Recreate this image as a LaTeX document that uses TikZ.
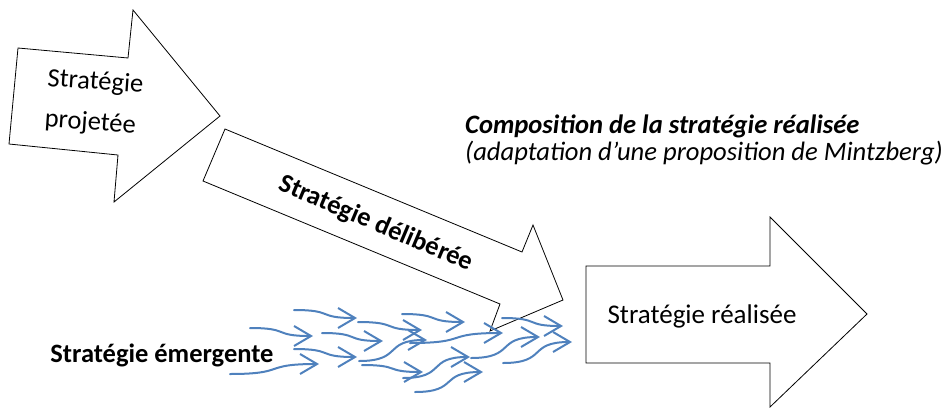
\documentclass[tikz,border=0pt]{standalone}
\usepackage{fontspec}
\setmainfont{Carlito}
\usepackage{tikz}
\usetikzlibrary{arrows.meta, calc}
\definecolor{ink}{RGB}{0,0,0}
\definecolor{flow}{RGB}{79,129,189}
\tikzset{
  bigarrow/.style  ={draw=ink, fill=white, line width=0.8pt, line join=miter},
  flowarr/.style   ={-{Straight Barb[length=17pt, width=20pt]}, line width=2pt, color=flow, line cap=round},
  armlabel/.style  ={font=\fontsize{26.5}{41}\selectfont, align=left, inner sep=0pt},
  boldlabel/.style ={font=\fontsize{26.5}{31}\selectfont\bfseries, inner sep=0pt},
  titlelabel/.style={anchor=base west, inner sep=0pt},
}
\begin{document}
\begin{tikzpicture}[x=1pt, y=-1pt]
\useasboundingbox (0,0) rectangle (948,408);
% the three big arrows
\draw[bigarrow] (18,48) -- (128,58) -- (133,10) -- (220,116) -- (114,202) -- (118,155) -- (9,144) -- cycle;
\draw[bigarrow] (225,129) -- (522,252) -- (533,225) -- (563,300) -- (490,331) -- (500,304) -- (203,181) -- cycle;
\draw[bigarrow] (586,266) -- (770,266) -- (770,217) -- (867,314) -- (770,407) -- (770,363) -- (586,363) -- cycle;
\node[armlabel, rotate=-4] (projetee) at (94,103) {Stratégie\\projetée};
\node[boldlabel, rotate=-23] (deliberee) at (376,224) {Stratégie délibérée};
\node[armlabel, font=\fontsize{27}{32}\selectfont] (realisee) at (702,316) {Stratégie réalisée};
\node[boldlabel] (emergente) at (162,355) {Stratégie émergente};
\node[titlelabel, font=\fontsize{26.6}{31}\selectfont\bfseries\itshape] (titre) at (465,133) {Composition de la stratégie réalisée};
\node[titlelabel, font=\fontsize{26.6}{31}\selectfont\itshape] (source) at (465,160) {(adaptation d’une proposition de Mintzberg)};
% emergent flows
\foreach \xa/\ya/\xb/\yb in {294/310/357/318, 250/328/313/336, 322/333/383/341, 294/349/357/357,
                             230/374/319/364, 358/322/422/330, 402/314/465/322, 359/361/427/340,
                             410/343/503/333, 362/365/423/372, 403/378/470/357, 415/392/483/372,
                             471/358/540/337, 503/363/572/342, 502/318/563/326} {
  \draw[flowarr] (\xa,\ya) .. controls ({\xa+0.65*(\xb-\xa)},\ya) and ({\xa+0.35*(\xb-\xa)},\yb) .. (\xb,\yb);
}
\end{tikzpicture}
\end{document}
